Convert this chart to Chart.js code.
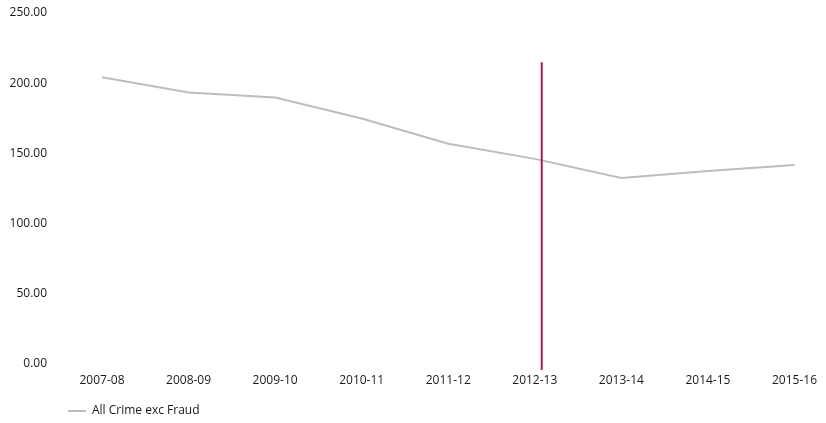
<!DOCTYPE html>
<html>
<head>
<meta charset="utf-8">
<script src="https://cdn.jsdelivr.net/npm/chart.js@4"></script>
<style>
    html, body { margin: 0; padding: 0; background: #fff; }
    #wrap { width: 826px; height: 423px; }
</style>
</head>
<body>
<div id="wrap"><canvas id="crimeChart"></canvas></div>
<script>
    // Data
    const years = ['2007-08', '2008-09', '2009-10', '2010-11', '2011-12', '2012-13', '2013-14', '2014-15', '2015-16'];
    const allCrime = [204.2, 193.4, 189.8, 174.8, 156.9, 146.1, 132.5, 137.5, 141.8];
    const yTicks = [0, 50, 100, 150, 200, 250];
    // Vertical marker: position on the category axis (just right of 2012-13) and its value span
    const markerPos = [5.08];
    const markerSpan = [-4.3, 214.9];

    // Draw the red marker line through the chart's own scales
    const markerLine = {
        id: 'markerLine',
        afterDatasetsDraw: function(chart) {
            const x = chart.scales.x.getPixelForValue(markerPos[0]);
            const y = chart.scales.y;
            const ctx = chart.ctx;
            ctx.save();
            ctx.strokeStyle = '#b3174e';
            ctx.lineWidth = 2;
            ctx.beginPath();
            ctx.moveTo(x, y.getPixelForValue(markerSpan[1]));
            ctx.lineTo(x, y.getPixelForValue(markerSpan[0]));
            ctx.stroke();
            ctx.restore();
        }
    };

    // Legend sits under the plot, indented
    const shiftLegend = {
        id: 'shiftLegend',
        afterLayout: function(chart) {
            chart.legend.left += 54;
            chart.legend.right += 54;
        }
    };

    Chart.defaults.font.family = '"Open Sans", sans-serif';
    Chart.defaults.font.size = 12;
    Chart.defaults.color = '#1a1a1a';

    new Chart(document.getElementById('crimeChart'), {
        type: 'line',
        data: {
            labels: years,
            datasets: [{
                label: 'All Crime exc Fraud',
                data: allCrime,
                borderColor: '#bdbdbd',
                backgroundColor: '#bdbdbd',
                borderWidth: 2,
                pointRadius: 0,
                tension: 0
            }]
        },
        options: {
            responsive: true,
            maintainAspectRatio: false,
            animation: false,
            layout: { padding: { left: 8, right: 28, top: 13, bottom: -4 } },
            plugins: {
                tooltip: { enabled: false },
                legend: {
                    position: 'bottom',
                    align: 'start',
                    labels: {
                        usePointStyle: true,
                        pointStyle: 'line',
                        pointStyleWidth: 18,
                        padding: 6,
                        color: '#1a1a1a'
                    }
                }
            },
            scales: {
                x: {
                    grid: { display: false, drawTicks: false },
                    border: { display: false },
                    ticks: { padding: 9, maxRotation: 0, autoSkip: false },
                    afterFit: function(scale) { scale.height = 35; }
                },
                y: {
                    min: yTicks[0],
                    max: yTicks[yTicks.length - 1],
                    grid: { display: false, drawTicks: false },
                    border: { display: false },
                    afterBuildTicks: function(scale) {
                        scale.ticks = yTicks.map(function(v) { return { value: v }; });
                    },
                    ticks: {
                        padding: 55,
                        callback: function(value) { return value.toFixed(2); }
                    },
                    afterFit: function(scale) {
                        scale.width = 94;
                        scale.paddingTop = 0;
                        scale.paddingBottom = 0;
                    }
                }
            }
        },
        plugins: [markerLine, shiftLegend]
    });
</script>
</body>
</html>
